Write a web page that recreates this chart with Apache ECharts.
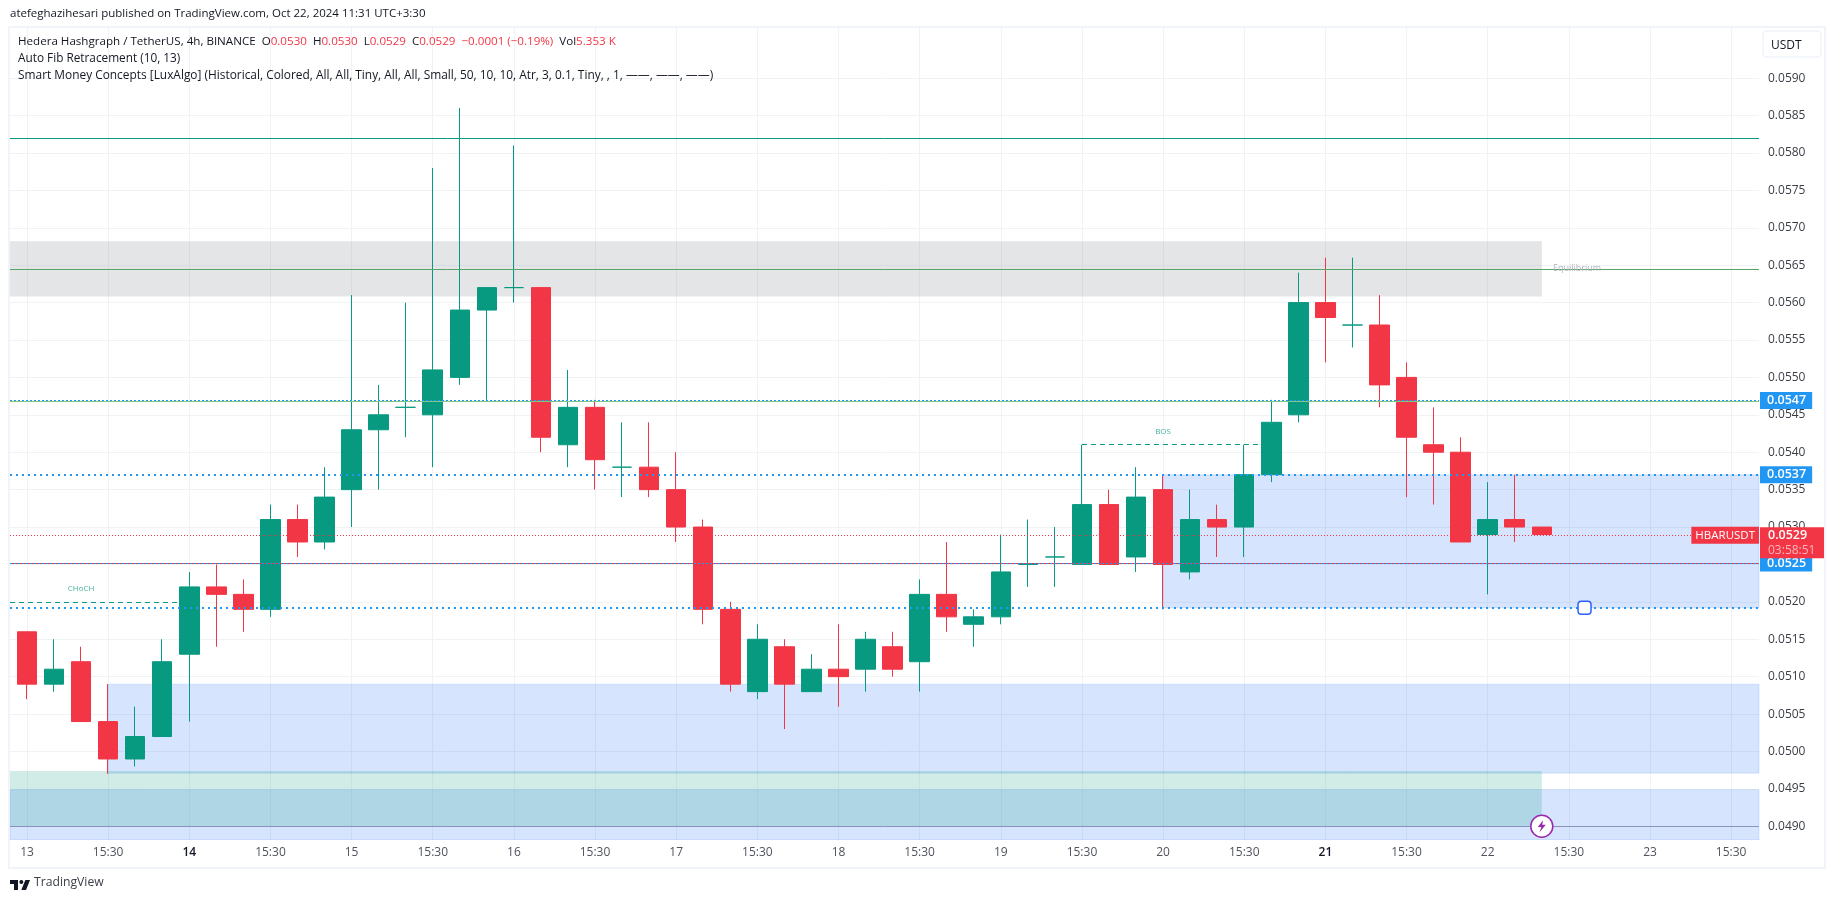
<!DOCTYPE html>
<html><head><meta charset="utf-8">
<style>html,body{margin:0;padding:0;background:#fff}#c{width:1835px;height:903px}</style>
<script src="https://cdn.jsdelivr.net/npm/echarts@6/dist/echarts.min.js"></script>
</head><body><div id="c"></div>
<script>
// candle values, by bar position
const opens  = [.0516,.0509,.0512,.0504,.0499,.0502,.0513,.0522,.0521,.0519,.0531,.0528,.0535,.0543,.0546,.0545,.0550,.0559,.0562,.0562,.0541,.0546,.0538,.0538,.0535,.0530,.0519,.0508,.0514,.0508,.0511,.0511,.0514,.0512,.0521,.0517,.0518,.0525,.0526,.0525,.0533,.0526,.0535,.0524,.0531,.0530,.0537,.0545,.0560,.0557,.0557,.0550,.0541,.0540,.0529,.0531,.0530];
const closes = [.0509,.0511,.0504,.0499,.0502,.0512,.0522,.0521,.0519,.0531,.0528,.0534,.0543,.0545,.0546,.0551,.0559,.0562,.0562,.0542,.0546,.0539,.0538,.0535,.0530,.0519,.0509,.0515,.0509,.0511,.0510,.0515,.0511,.0521,.0518,.0518,.0524,.0525,.0526,.0533,.0525,.0534,.0525,.0531,.0530,.0537,.0544,.0560,.0558,.0557,.0549,.0542,.0540,.0528,.0531,.0530,.0529];
const lows   = [.0507,.0508,.0504,.0497,.0498,.0502,.0504,.0514,.0516,.0518,.0526,.0527,.0530,.0535,.0542,.0538,.0549,.0547,.0560,.0540,.0538,.0535,.0534,.0534,.0528,.0517,.0508,.0507,.0503,.0508,.0506,.0508,.0510,.0508,.0516,.0514,.0517,.0522,.0522,.0525,.0525,.0524,.0519,.0523,.0526,.0526,.0536,.0544,.0552,.0554,.0546,.0534,.0533,.0528,.0521,.0528,.0529];
const highs  = [.0516,.0515,.0514,.0509,.0506,.0515,.0524,.0525,.0523,.0533,.0533,.0538,.0561,.0549,.0560,.0578,.0586,.0562,.0581,.0562,.0551,.0547,.0544,.0544,.0540,.0531,.0520,.0517,.0515,.0513,.0517,.0516,.0516,.0523,.0528,.0519,.0529,.0531,.0530,.0541,.0535,.0538,.0537,.0535,.0533,.0541,.0547,.0564,.0566,.0566,.0561,.0552,.0546,.0542,.0536,.0537,.0530];
// axis ticks
const yTicks = [.0490,.0495,.0500,.0505,.0510,.0515,.0520,.0525,.0530,.0535,.0540,.0545,.0550,.0555,.0560,.0565,.0570,.0575,.0580,.0585,.0590];
const xTickPos = [0,3,6,9,12,15,18,21,24,27,30,33,36,39,42,45,48,51,54,57,60,63];
const xTickLabels = ['13','15:30','14','15:30','15','15:30','16','15:30','17','15:30','18','15:30','19','15:30','20','15:30','21','15:30','22','15:30','23','15:30'];
const boldLabels = ['14','21'];
// view range
const xMin = -0.628, xMax = 64.03, yMin = .048817, yMax = .05967;
// zones [xFrom, xTo, priceTop, priceBottom]
const blueZones  = [[42,xMax,.0537,.05192],[3,xMax,.0509,.04971],[xMin,xMax,.04949,yMin]];
const greenZones = [[xMin,56,.04974,.0490]];
const greyZones  = [[xMin,56,.05682,.05608]];
// horizontal levels
const tealLevel = .0582, fibGreen = [.05645,.05468], redLevel = .05251, purpleLevel = .0490, lastPrice = .05289;
const blueLevels = [.05469,.0537,.05252,.05192];
const blueWidths = [1,2,1,2];
const blueLabels = ['0.0547','0.0537','0.0525',''];
// structure breaks [xFrom, xTo, price]
const dashSegments = [[xMin,6,.0520],[39,46,.0541]];

const F = '"Open Sans",sans-serif';
const GREEN='#089981', RED='#f23645', BLUE='#2196f3', GRID='#f0f3f5', TXT='#131722';

const candleData = opens.map((o,i)=>[i,o,closes[i],lows[i],highs[i]]);
const zoneArea = (zs,color,border)=>({silent:true,itemStyle:{color,borderColor:border||'transparent',borderWidth:border?1:0},
  data:zs.map(z=>[{coord:[z[0],z[2]]},{coord:[z[1],z[3]]}])});
const empty = (name,z,extra)=>Object.assign({type:'line',name,data:[],z,silent:true,animation:false,showSymbol:false},extra);
const hline = (v,color,width,dash,label)=>({yAxis:v,lineStyle:{color,width,type:dash||'solid'},label:label?label:{show:false}});
const ml = (data)=>({silent:true,symbol:'none',animation:false,precision:6,data});
const boxLabel = t=>({show:true,position:'end',formatter:t,distance:1,backgroundColor:BLUE,color:'#fff',fontFamily:F,fontSize:12.5,fontWeight:600,
  padding:[2,6,2,7],lineHeight:13});

const option = {
  animation:false, backgroundColor:'#fff',
  grid:{left:10,top:28,right:76,bottom:63,containLabel:false},
  title:[
   {text:'atefeghazihesari published on TradingView.com, Oct 22, 2024 11:31 UTC+3:30',left:10,top:8,padding:0,textStyle:{fontFamily:F,fontSize:11.5,fontWeight:400,color:TXT}},
   {text:'Hedera Hashgraph / TetherUS, 4h, BINANCE  O{r|0.0530}  H{r|0.0530}  L{r|0.0529}  C{r|0.0529}  {r|−0.0001 (−0.19%)}  Vol{r|5.353 K}',left:18,top:36,padding:0,
    textStyle:{fontFamily:F,fontSize:11.6,fontWeight:400,color:TXT,rich:{r:{color:RED,fontFamily:F,fontSize:11.6}}}},
   {text:'Auto Fib Retracement (10, 13)',left:18,top:53,padding:0,textStyle:{fontFamily:F,fontSize:11.8,fontWeight:400,color:TXT}},
   {text:'Smart Money Concepts [LuxAlgo] (Historical, Colored, All, All, Tiny, All, All, Small, 50, 10, 10, Atr, 3, 0.1, Tiny, , 1, ——, ——, ——)',left:18,top:70,padding:0,textStyle:{fontFamily:F,fontSize:11.9,fontWeight:400,color:TXT}}
  ],
  xAxis:[
   {type:'value',position:'bottom',min:xMin,max:xMax,
    axisLine:{show:false},axisTick:{show:false,customValues:xTickPos},axisLabel:{show:false},
    splitLine:{show:true,lineStyle:{color:GRID,width:1}}},
   {type:'value',position:'bottom',min:xMin,max:xMax,z:95,
    axisLine:{show:false},axisTick:{show:false,customValues:xTickPos},splitLine:{show:false},
    axisLabel:{customValues:xTickPos,margin:7,fontFamily:F,fontSize:12,color:'#50535e',
      formatter:v=>{const t=xTickLabels[xTickPos.indexOf(v)]||'';return boldLabels.includes(t)?'{b|'+t+'}':t;},
      rich:{b:{fontFamily:F,fontSize:12,fontWeight:600,color:TXT}}}}
  ],
  yAxis:{type:'value',position:'right',min:yMin,max:yMax,
    axisLine:{show:false},axisTick:{show:false,customValues:yTicks},
    splitLine:{show:true,lineStyle:{color:GRID,width:1}},
    axisLabel:{customValues:yTicks,margin:9,fontFamily:F,fontSize:12,color:'#3b3e47',formatter:v=>v.toFixed(4)}},
  series:[
    empty('zones-blue',1,{markArea:zoneArea(blueZones,'rgba(33,110,243,0.185)','rgba(33,110,243,0.14)')}),
    empty('zones-green',1,{markArea:zoneArea(greenZones,'rgba(8,153,129,0.19)')}),
    empty('zones-grey',1,{markArea:zoneArea(greyZones,'rgba(120,123,134,0.2)')}),
    empty('levels',2,{markLine:ml([
      hline(tealLevel,GREEN,1),
      ...fibGreen.map((v,i)=>hline(v,i?'#81c784':'#5aa469',1)),
      hline(redLevel,RED,1),
      hline(purpleLevel,'#8a93bd',1),
      hline(lastPrice,RED,1,[1,2]),
      ...dashSegments.map(s=>[{coord:[s[0],s[2]],lineStyle:{color:GREEN,width:1,type:[5,4]}},{coord:[s[1],s[2]]}])
    ])}),
    {type:'candlestick',name:'HBARUSDT',z:3,data:candleData,encode:{x:0,y:[1,2,3,4]},barWidth:20,clip:true,
      large:false,progressive:0,animation:false,
      itemStyle:{color:GREEN,color0:RED,borderColor:GREEN,borderColor0:RED,borderColorDoji:GREEN,borderWidth:1}},
    empty('blue-levels',6,{markLine:ml(blueLevels.map((v,i)=>hline(v,BLUE,blueWidths[i],blueWidths[i]===2?[2,4]:[2,2],blueLabels[i]?boxLabel(blueLabels[i]):null)))}),
    empty('annotations',8,{markPoint:{silent:true,animation:false,data:[
      {coord:[2,.05217],symbolSize:0,label:{show:true,position:'inside',formatter:'CHoCH',fontFamily:F,fontSize:8,color:'rgba(8,153,129,.75)'}},
      {coord:[42,.05427],symbolSize:0,label:{show:true,position:'inside',formatter:'BOS',fontFamily:F,fontSize:8,color:'rgba(8,153,129,.75)'}},
      {coord:[57.3,.05645],symbolSize:0,label:{show:true,position:'inside',formatter:'Equilibrium',fontFamily:F,fontSize:9,color:'#b2b5be'}},
      {coord:[21,.04881],symbolSize:0,label:{show:true,position:'inside',formatter:'Discount',fontFamily:F,fontSize:10,color:GREEN}},
      {coord:[57.58,.05192],symbol:'roundRect',symbolSize:13,itemStyle:{color:'#fff',borderColor:'#2962ff',borderWidth:1.5}},
      {coord:[56,.0490],symbol:'circle',symbolSize:22,itemStyle:{color:'#fff',borderColor:'#9c27b0',borderWidth:1.5}},
      {coord:[56,.0490],symbol:'path://M7 0 L1 9 L5 9 L3 16 L10 6 L6 6 Z',symbolSize:[8,12],itemStyle:{color:'#9c27b0'}},
      {coord:[xMax,lastPrice],symbolSize:0,label:{show:true,position:'left',distance:0,formatter:'HBARUSDT',backgroundColor:RED,color:'#fff',fontFamily:F,fontSize:11.5,fontWeight:500,padding:[2,4,2,4],lineHeight:13}},
      {coord:[xMax,lastPrice],symbolSize:0,label:{show:true,position:'right',distance:1,offset:[0,7.5],
        formatter:'{a|0.0529}\n{b|03:58:51}',backgroundColor:RED,padding:[1,9,1,8],
        rich:{a:{color:'#fff',fontFamily:F,fontSize:12.5,fontWeight:600,lineHeight:15},b:{color:'#fbb5bc',fontFamily:F,fontSize:12,fontWeight:500,lineHeight:14}}}}
    ]}})
  ],
  graphic:[
    {type:'rect',z:90,silent:true,shape:{x:10,y:840,width:1749,height:27},style:{fill:'#fff'}},
    {type:'rect',z:91,silent:true,shape:{x:9,y:27,width:1816,height:841},style:{fill:'none',stroke:'#f0f3fa',lineWidth:2}},
    {type:'rect',z:92,silent:true,shape:{x:1763,y:31,width:58,height:26,r:4},style:{fill:'#fff',stroke:'#f0f3fa',lineWidth:1.5}},
    {type:'text',z:93,silent:true,x:1771,y:40,style:{text:'USDT',font:'12px '+F,fill:TXT}},
    {type:'group',x:8.67,y:876,scaleX:.667,scaleY:.667,silent:true,children:[
      {type:'polygon',z:93,shape:{points:[[14,6],[2,6],[2,12],[8,12],[8,21],[14,21]]},style:{fill:TXT}},
      {type:'polygon',z:93,shape:{points:[[26,21],[19,21],[25,6],[32,6]]},style:{fill:TXT}},
      {type:'circle',z:93,shape:{cx:19,cy:9,r:3},style:{fill:TXT}}
    ]},
    {type:'text',z:93,silent:true,x:34,y:877,style:{text:'TradingView',font:'12.2px '+F,fill:'#3b3e47'}}
  ]
};
const chart = echarts.init(document.getElementById('c'),null,{renderer:'canvas'});
chart.setOption(option);
</script></body></html>
